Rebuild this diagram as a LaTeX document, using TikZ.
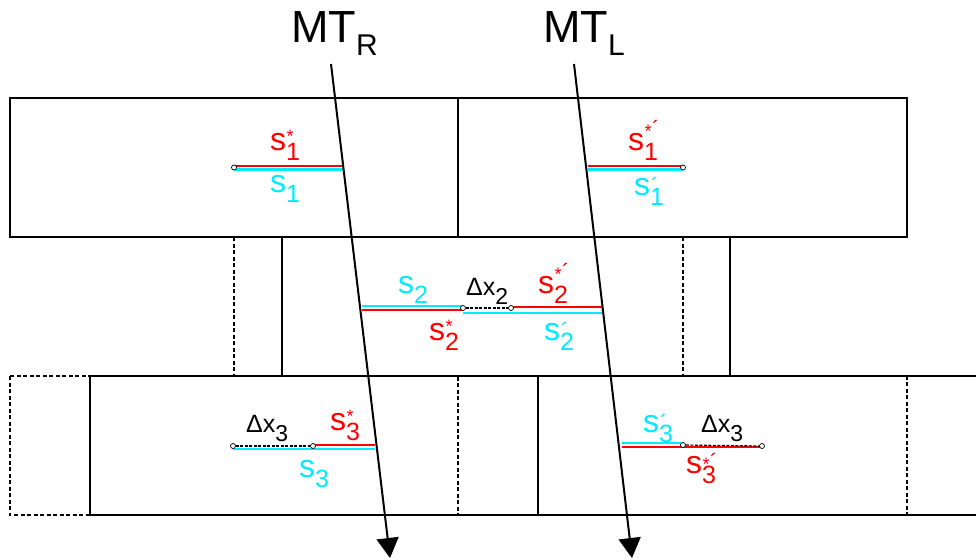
\documentclass[tikz,border=0pt]{standalone}
\usepackage{fontspec}
\setmainfont{Liberation Sans}
\usetikzlibrary{arrows.meta}
\definecolor{cy}{RGB}{0,235,255}
\definecolor{rd}{RGB}{255,0,0}
\newcommand{\slab}[3]{\fontsize{32}{32}\selectfont s\rlap{\kern0.5pt\raisebox{#3}{\fontsize{18}{18}\selectfont #2}}\raisebox{-10pt}{\fontsize{25}{25}\selectfont #1}}
\newcommand{\dlab}[1]{\fontsize{25}{25}\selectfont Δx\raisebox{-9pt}{\fontsize{23}{23}\selectfont #1}}
\newcommand{\mtlab}[1]{\fontsize{45}{45}\selectfont MT\raisebox{-13pt}{\fontsize{30}{30}\selectfont #1}}
\newcommand{\pr}{\kern0.5pt\raisebox{1pt}{\fontsize{22}{22}\selectfont ´}}
\begin{document}
\begin{tikzpicture}[x=1pt,y=-1pt,
  box/.style={line width=1.3pt},
  dbox/.style={line width=1.3pt, dash pattern=on 4pt off 2.5pt},
  mt/.style={line width=2pt, -{Triangle[length=20pt,width=22pt]}},
  redl/.style={draw=rd, line width=1.8pt},
  cyl/.style={draw=cy, line width=2.4pt},
  gap/.style={line width=1.2pt, dash pattern=on 3pt off 1.5pt},
  endpt/.style={circle, draw=black, fill=white, line width=0.7pt, inner sep=0pt, minimum size=5pt},
  lab/.style={inner sep=0pt, anchor=base west}]
\useasboundingbox (0,0) rectangle (976,559);
% top row
\draw[box] (10,98) rectangle (458,237);
\draw[box] (458,98) rectangle (907,237);
% middle row
\draw[dbox] (234,237) -- (234,376);
\draw[dbox] (683,237) -- (683,376);
\draw[box] (282,237) -- (282,376);
\draw[box] (730,237) -- (730,376);
% bottom row
\draw[dbox] (10,376) rectangle (458,515);
\draw[dbox] (458,376) -- (907,376) -- (907,515) -- (458,515);
\draw[box] (90,376) rectangle (538,515);
\draw[box] (538,376) -- (976,376);
\draw[box] (538,515) -- (976,515);
% coloured segments, top left
\coordinate (t1a) at (234,166); \coordinate (t1b) at (343,166);
\coordinate (t1c) at (234,169.5); \coordinate (t1d) at (343,169.5);
\draw[redl] (t1a) -- (t1b);
\draw[cyl] (t1c) -- (t1d);
% top right
\coordinate (t2a) at (588,166); \coordinate (t2b) at (683,166);
\coordinate (t2c) at (588,169.5); \coordinate (t2d) at (683,169.5);
\draw[redl] (t2a) -- (t2b);
\draw[cyl] (t2c) -- (t2d);
% middle
\coordinate (m1) at (362,306); \coordinate (m2) at (463,306);
\coordinate (m3) at (362,310); \coordinate (m4) at (463,310);
\coordinate (m5) at (511,307); \coordinate (m6) at (603,307);
\coordinate (m7) at (463,313); \coordinate (m8) at (603,313);
\draw[cyl] (m1) -- (m2);
\draw[redl] (m3) -- (m4);
\draw[redl] (m5) -- (m6);
\draw[cyl] (m7) -- (m8);
% bottom left
\coordinate (b1) at (313,445); \coordinate (b2) at (375,445);
\coordinate (b3) at (233,449); \coordinate (b4) at (375,449);
\draw[redl] (b1) -- (b2);
\draw[cyl] (b3) -- (b4);
% bottom right
\coordinate (r1) at (622,443); \coordinate (r2) at (683,443);
\coordinate (r3) at (622,447); \coordinate (r4) at (762,447);
\draw[cyl] (r1) -- (r2);
\draw[redl] (r3) -- (r4);
% MT arrows
\node[lab] (mtr) at (291,43) {\mtlab{R}};
\node[lab] (mtl) at (543,43) {\mtlab{L}};
\coordinate (mtrs) at (331,64); \coordinate (mtre) at (390,558);
\coordinate (mtls) at (574,64); \coordinate (mtle) at (632,558);
\draw[mt] (mtrs) -- (mtre);
\draw[mt] (mtls) -- (mtle);
% end points
\node[endpt] (e1) at (234,167.5) {};
\node[endpt] (e2) at (683,167.5) {};
\node[endpt] (e3) at (463,308) {};
\node[endpt] (e4) at (511,308) {};
\draw[gap] (e3) -- (e4);
\node[endpt] (e5) at (233,446) {};
\node[endpt] (e6) at (313,446) {};
\draw[gap] (e5) -- (e6);
\node[endpt] (e7) at (683,445) {};
\node[endpt] (e8) at (762,446) {};
\draw[gap] (e7) -- (e8);
% labels
\node[lab, text=rd] (l1) at (270,150) {\slab{1}{*}{8pt}};
\node[lab, text=cy] (l2) at (270,192) {\slab{1}{}{0pt}};
\node[lab, text=rd] (l3) at (628,150) {\slab{1}{*\pr}{13pt}};
\node[lab, text=cy] (l4) at (634,195) {\slab{1}{\pr}{1pt}};
\node[lab, text=cy] (l5) at (398,293) {\slab{2}{}{0pt}};
\node[lab] (l6) at (466,295) {\dlab{2}};
\node[lab, text=rd] (l7) at (538,293) {\slab{2}{*\pr}{13pt}};
\node[lab, text=rd] (l8) at (429,340) {\slab{2}{*}{8pt}};
\node[lab, text=cy] (l9) at (544,340) {\slab{2}{\pr}{1pt}};
\node[lab] (l10) at (246,432) {\dlab{3}};
\node[lab, text=rd] (l11) at (330,430) {\slab{3}{*}{8pt}};
\node[lab, text=cy] (l12) at (299,477) {\slab{3}{}{0pt}};
\node[lab, text=cy] (l13) at (643,432) {\slab{3}{\pr}{1pt}};
\node[lab] (l14) at (701,432) {\dlab{3}};
\node[lab, text=rd] (l15) at (686,473) {\slab{3}{*\pr}{3pt}};
\end{tikzpicture}
\end{document}
